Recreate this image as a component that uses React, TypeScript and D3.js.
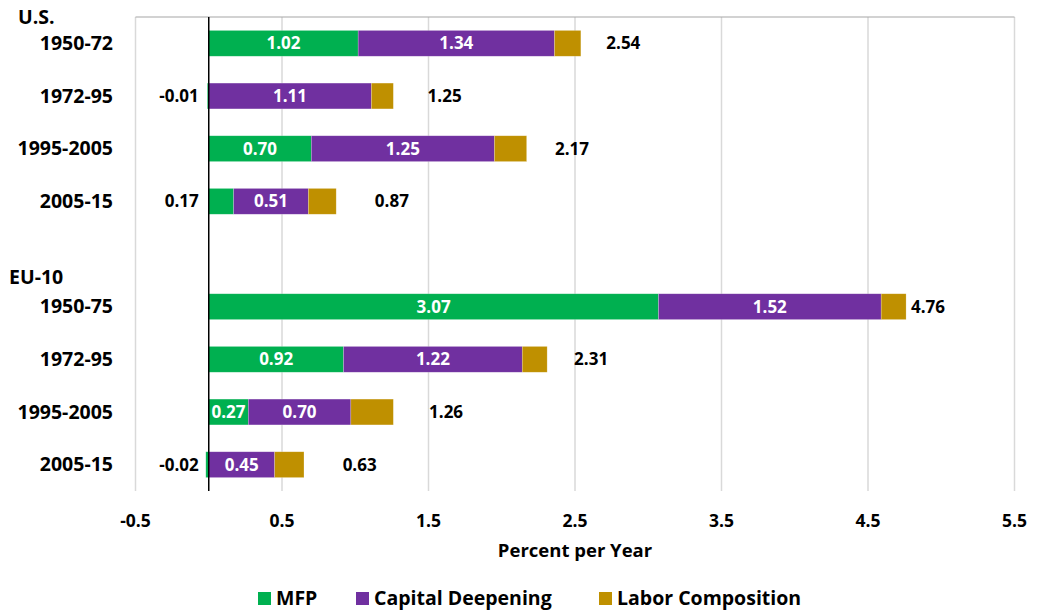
import React from "react";
import * as d3 from "d3";

const rowLabels = ["1950-72", "1972-95", "1995-2005", "2005-15", "", "1950-75", "1972-95", "1995-2005", "2005-15"];
const groupLabels = [
  { label: "U.S.", row: 0 },
  { label: "EU-10", row: 5 },
];
const mfp = [1.02, -0.01, 0.7, 0.17, null, 3.07, 0.92, 0.27, -0.02];
const capitalDeepening = [1.34, 1.11, 1.25, 0.51, null, 1.52, 1.22, 0.7, 0.45];
const laborComposition = [0.18, 0.15, 0.22, 0.19, null, 0.17, 0.17, 0.29, 0.2];
const totals = [2.54, 1.25, 2.17, 0.87, null, 4.76, 2.31, 1.26, 0.63];
const totalLabelAt = [2.83, 1.61, 2.48, 1.25, null, 4.91, 2.61, 1.62, 1.03];
const xTicks = [-0.5, 0.5, 1.5, 2.5, 3.5, 4.5, 5.5];
const seriesNames = ["MFP", "Capital Deepening", "Labor Composition"];
const seriesColors = ["#00B050", "#7030A0", "#BF9000"];

const W = 1037;
const H = 612;
const FONT = "'Open Sans', 'DejaVu Sans', sans-serif";

const fmt = (v: number) => d3.format(".2f")(v).replace("\u2212", "-");

export default function App() {
  const x = d3.scaleLinear().domain([-0.5, 5.5]).range([135.5, 1014.5]);
  const y = d3
    .scaleBand<number>()
    .domain(d3.range(rowLabels.length))
    .range([17, 491])
    .paddingInner(0.51)
    .paddingOuter(0.255);
  const bw = y.bandwidth();

  const rows = rowLabels.map((lab, i) => {
    if (mfp[i] === null) return null;
    const m = mfp[i] as number;
    const c = capitalDeepening[i] as number;
    const l = laborComposition[i] as number;
    const segs = [
      { s: 0, v: m, x0: Math.min(0, m), x1: Math.max(0, m) },
      { s: 1, v: c, x0: Math.max(0, m), x1: Math.max(0, m) + c },
      { s: 2, v: l, x0: Math.max(0, m) + c, x1: Math.max(0, m) + c + l },
    ];
    return { i, lab, segs };
  });

  const legendItems = [
    { sq: 258, tx: 276 },
    { sq: 356, tx: 374 },
    { sq: 599, tx: 617 },
  ];

  return (
    <svg
      width={W}
      height={H}
      style={{ position: "absolute", left: 0, top: 0, background: "#fff" }}
      fontFamily={FONT}
    >
      {/* gridlines */}
      {xTicks.map((t) => (
        <line key={t} x1={x(t)} x2={x(t)} y1={17} y2={491} stroke="#d9d9d9" strokeWidth={1.5} />
      ))}
      <line x1={x(-0.5)} x2={x(5.5)} y1={17} y2={17} stroke="#a6a6a6" strokeWidth={1.2} />

      {/* bars */}
      {rows.map((r) =>
        r
          ? r.segs.map((sg) => (
              <rect
                key={`${r.i}-${sg.s}`}
                x={x(sg.x0)}
                y={y(r.i)}
                width={Math.max(0, x(sg.x1) - x(sg.x0))}
                height={bw}
                fill={seriesColors[sg.s]}
                stroke="#ffffff"
                strokeOpacity={0.35}
                strokeWidth={0.6}
              />
            ))
          : null
      )}

      {/* zero axis */}
      <line x1={x(0)} x2={x(0)} y1={17} y2={491} stroke="#000" strokeWidth={1.5} />

      {/* segment labels */}
      {rows.map((r) =>
        r
          ? r.segs.slice(0, 2).map((sg) => {
              const w = x(sg.x1) - x(sg.x0);
              const cy = (y(r.i) as number) + bw / 2;
              if (w < 36) {
                return (
                  <text
                    key={`l-${r.i}-${sg.s}`}
                    x={x(0) - 10}
                    y={cy}
                    dy="0.35em"
                    textAnchor="end"
                    fontSize={17}
                    fontWeight={700}
                    fill="#000"
                  >
                    {fmt(sg.v)}
                  </text>
                );
              }
              return (
                <text
                  key={`l-${r.i}-${sg.s}`}
                  x={(x(sg.x0) + x(sg.x1)) / 2}
                  y={cy}
                  dy="0.35em"
                  textAnchor="middle"
                  fontSize={17}
                  fontWeight={700}
                  fill="#fff"
                >
                  {fmt(sg.v)}
                </text>
              );
            })
          : null
      )}

      {/* totals */}
      {totals.map((t, i) =>
        t === null ? null : (
          <text
            key={`t-${i}`}
            x={x(totalLabelAt[i] as number)}
            y={(y(i) as number) + bw / 2}
            dy="0.35em"
            textAnchor="middle"
            fontSize={17}
            fontWeight={700}
            fill="#000"
          >
            {fmt(t)}
          </text>
        )
      )}

      {/* category labels */}
      {rowLabels.map((lab, i) => (
        <text
          key={`c-${i}`}
          x={113}
          y={(y(i) as number) + bw / 2}
          dy="0.35em"
          textAnchor="end"
          fontSize={19.5}
          fontWeight={700}
          fill="#000"
        >
          {lab}
        </text>
      ))}
      {groupLabels.map((g) => (
        <text
          key={g.label}
          x={g.row === 0 ? 18 : 9}
          y={(y(g.row) as number) + bw / 2 - (g.row === 0 ? 26 : 29)}
          dy="0.35em"
          textAnchor="start"
          fontSize={19.5}
          fontWeight={700}
          fill="#000"
        >
          {g.label}
        </text>
      ))}

      {/* x tick labels */}
      {xTicks.map((t) => (
        <text key={`xt-${t}`} x={x(t)} y={521} dy="0.35em" textAnchor="middle" fontSize={17.5} fontWeight={700} fill="#000">
          {String(t)}
        </text>
      ))}
      <text x={(x(-0.5) + x(5.5)) / 2} y={551} dy="0.35em" textAnchor="middle" fontSize={18.5} fontWeight={700} fill="#000">
        Percent per Year
      </text>

      {/* legend */}
      {seriesNames.map((n, k) => (
        <g key={n}>
          <rect x={legendItems[k].sq} y={592} width={13} height={13} fill={seriesColors[k]} />
          <text x={legendItems[k].tx} y={598.5} dy="0.35em" fontSize={19.5} fontWeight={700} fill="#000">
            {n}
          </text>
        </g>
      ))}
    </svg>
  );
}
